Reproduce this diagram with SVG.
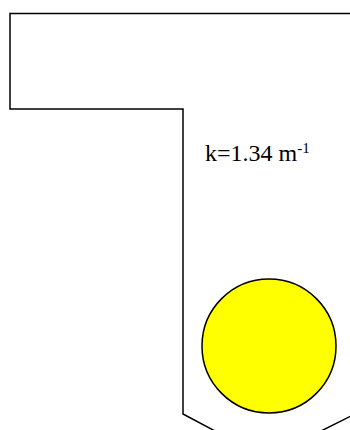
<svg xmlns="http://www.w3.org/2000/svg" width="350" height="430" viewBox="0 0 350 430">
<style>
.ln{fill:none;stroke:#000;stroke-width:1.5}
.lbl{font-family:"Liberation Serif","Times New Roman",serif;font-size:24px;fill:#000}
</style>
<rect width="350" height="430" fill="#fff"/>
<g id="walls">
<path class="ln" d="M351,13.5 H10 V109 H183 V414 L215,431"/>
<path class="ln" d="M351,416 L321,431"/>
</g>
<g id="ball">
<circle cx="269" cy="346" r="67" fill="#ffff00" stroke="#000" stroke-width="1.5"/>
</g>
<g id="label">
<text class="lbl" x="205" y="161">k=1.34 m<tspan font-size="15" dy="-8">-1</tspan></text>
</g>
</svg>
